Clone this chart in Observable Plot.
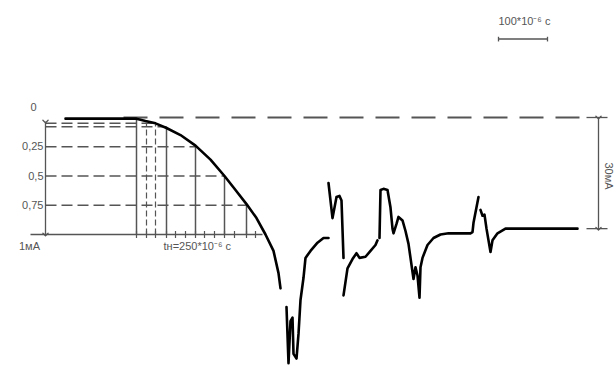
<!DOCTYPE html>
<html>
<head>
<meta charset="utf-8">
<script src="https://cdn.jsdelivr.net/npm/d3@7"></script>
<script src="https://cdn.jsdelivr.net/npm/@observablehq/plot@0.6"></script>
<style>
  html, body { margin: 0; padding: 0; background: #fff; }
  #chart svg { display: block; }
</style>
</head>
<body>
<div id="chart"></div>
<script>
// time in µs (t), current in mA (v, increasing downward)
const segA_t = [-142,-72,-22,0,18,38,60,88,118,148,176,198,220,240,258,274,284,288];
const segA_v = [0.01,0.01,0.01,0.01,0.03,0.05,0.09,0.15,0.24,0.36,0.50,0.62,0.74,0.86,1.00,1.14,1.33,1.46];
const segB_t = [300,304,308,312,314,320,324,328,334,338,348,362,374,384];
const segB_v = [1.62,2.10,1.74,1.71,2.02,2.06,1.85,1.56,1.37,1.20,1.14,1.07,1.03,1.03];
const segC_t = [384,392,400,406,410,414];
const segC_v = [0.56,0.86,0.68,0.67,0.71,1.20];
const segD_t = [414,422,432,440,446,458,468,478,482];
const segD_v = [1.52,1.29,1.21,1.16,1.20,1.19,1.14,1.09,1.05];
const segE_t = [486,488,494,502,508,512,514,520,524,532,538,544,548,554,558,562,566,568,572,582,594,608,624,654,668,672,674,684];
const segE_v = [1.03,0.62,0.61,0.62,0.77,0.95,0.99,0.91,0.85,0.88,0.97,1.08,1.20,1.38,1.28,1.35,1.54,1.28,1.20,1.09,1.03,1.00,0.99,0.99,0.99,0.98,0.90,0.68];
const segF_t = [688,692,696,700,708,712,722,738,882];
const segF_v = [0.79,0.84,0.83,0.95,1.15,1.05,0.99,0.95,0.95];

// level guide lines (mA) and where they meet the curve (µs)
const levelValues = [0.05, 0.08, 0.25, 0.5, 0.75];
const levelEnds   = [38, 60, 118, 176, 220];
const levelLabels = ["0", "0,25", "0,5", "0,75", "1мА"];
const levelLabelValues = [-0.09, 0.25, 0.5, 0.75, 1.10];

// solid verticals: time and curve value at top
const solidT = [0, 60, 118, 176, 220];
const solidTop = [0.0, 0.08, 0.24, 0.5, 0.74];
// dashed verticals
const dashT = [20, 38];
const dashTop = [0.05, 0.06];
// baseline ticks (µs)
const baseTicks = [0, 20, 38, 60, 78, 98, 118, 136, 156, 176, 196, 220, 238];

const pulseLabel = "tн=250*10⁻⁶ с";
const scaleLabel = "100*10⁻⁶ с";
const scaleBar = [724, 822];
const spanLabel = "30мА";
const spanLevels = [0, 0.95];

const segs = [[segA_t, segA_v], [segB_t, segB_v], [segC_t, segC_v], [segD_t, segD_v], [segE_t, segE_v], [segF_t, segF_v]];
const wave = segs.flatMap(([ts, vs], k) => ts.map((t, i) => ({seg: k, t, v: vs[i]})));

const levels = levelValues.map((v, i) => ({v, end: levelEnds[i]}));
const solids = solidT.map((t, i) => ({t, top: solidTop[i]}));
const dashes = dashT.map((t, i) => ({t, top: dashTop[i]}));

const gray = "#555";
const font = "Liberation Sans, Arial, sans-serif";

const chart = Plot.plot({
  width: 615,
  height: 365,
  margin: 0,
  style: {fontFamily: font, background: "#fff"},
  x: {domain: [-272, 958], axis: null},
  y: {domain: [-1, 365 / 117 - 1], reverse: true, axis: null},
  marks: [
    // top zero line, long dashes
    Plot.link([0], {x1: -26, x2: 908, y1: 0, y2: 0, stroke: gray, strokeWidth: 2, strokeDasharray: "24,12"}),
    // level guide lines
    Plot.link(levels, {x1: -182, x2: "end", y1: "v", y2: "v", stroke: gray, strokeWidth: 1.5, strokeDasharray: "11,5"}),
    // baseline (1 mA)
    Plot.link([1], {x1: -212, x2: 252, y1: d => d, y2: d => d, stroke: gray, strokeWidth: 1.5}),
    Plot.link(baseTicks, {x1: d => d, x2: d => d, y1: 0.97, y2: 1.03, stroke: gray, strokeWidth: 1.2}),
    // verticals
    Plot.link(solids, {x1: "t", x2: "t", y1: 1, y2: "top", stroke: gray, strokeWidth: 1.5}),
    Plot.link(dashes, {x1: "t", x2: "t", y1: 1, y2: "top", stroke: gray, strokeWidth: 1.2, strokeDasharray: "6,3"}),
    // left double arrow
    Plot.link([0], {x1: -182, x2: -182, y1: 0.035, y2: 1, stroke: gray, strokeWidth: 1.3, markerStart: "arrow", markerEnd: "arrow"}),
    // right double arrow
    Plot.link([0], {x1: 924, x2: 924, y1: spanLevels[0], y2: spanLevels[1], stroke: gray, strokeWidth: 1.3, markerStart: "arrow", markerEnd: "arrow"}),
    Plot.link(spanLevels, {x1: 900, x2: 942, y1: d => d, y2: d => d, stroke: gray, strokeWidth: 1.3}),
    Plot.text([spanLabel], {x: 945, y: 0.50, text: d => d, rotate: 90, fontSize: 11, fill: gray}),
    // scale bar
    Plot.link([0], {x1: scaleBar[0], x2: scaleBar[1], y1: -0.67, y2: -0.67, stroke: gray, strokeWidth: 1.5}),
    Plot.link(scaleBar, {x1: d => d, x2: d => d, y1: -0.69, y2: -0.65, stroke: gray, strokeWidth: 1.3}),
    Plot.text([scaleLabel], {x: scaleBar[0], y: -0.82, text: d => d, textAnchor: "start", fontSize: 11, fill: gray}),
    // waveform
    Plot.line(wave, {x: "t", y: "v", z: "seg", stroke: "#000", strokeWidth: 2.6, strokeLinejoin: "round", strokeLinecap: "round"}),
    // labels
    Plot.text(levelLabels.slice(1, 4), {x: -186, y: (d, i) => levelLabelValues[i + 1], text: d => d, textAnchor: "end", fontSize: 11, fill: gray}),
    Plot.text([levelLabels[0]], {x: -206, y: levelLabelValues[0], text: d => d, fontSize: 11, fill: gray}),
    Plot.text([levelLabels[4]], {x: -214, y: levelLabelValues[4], text: d => d, fontSize: 11, fill: gray}),
    Plot.text([pulseLabel], {x: 54, y: 1.10, text: d => d, textAnchor: "start", fontSize: 11, fill: gray})
  ]
});
document.getElementById("chart").appendChild(chart);
</script>
</body>
</html>
